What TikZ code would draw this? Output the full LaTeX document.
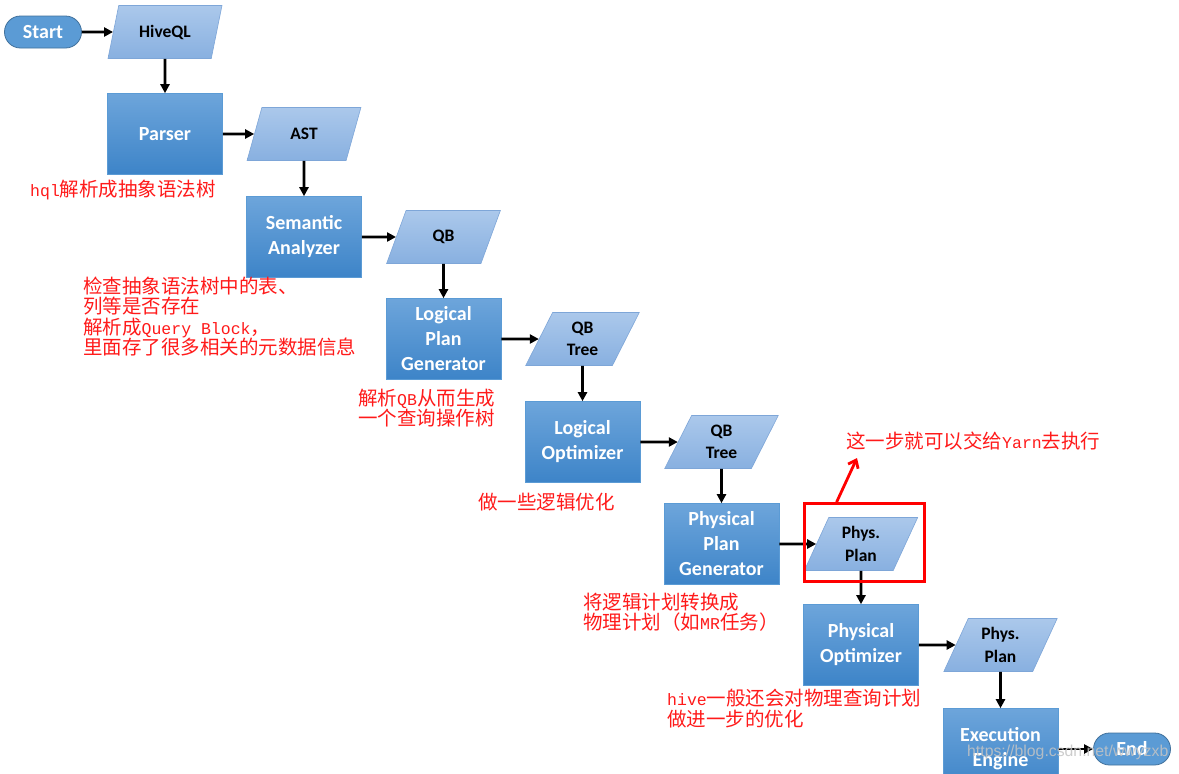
\documentclass[tikz,border=0pt]{standalone}
\usepackage{fontspec}
\setmainfont{Carlito}
\newfontfamily\cjkfont{Noto Sans CJK SC}
\newfontfamily\monofnt{Liberation Mono}
\newfontfamily\wmfont{Liberation Sans}
\usetikzlibrary{shapes.geometric,arrows.meta,calc}
\definecolor{boxtop}{HTML}{6DA5DB}
\definecolor{boxbot}{HTML}{3D84C8}
\definecolor{boxline}{HTML}{5B9BD5}
\definecolor{iotop}{HTML}{ABC8EB}
\definecolor{iobot}{HTML}{88B0E0}
\definecolor{ioline}{HTML}{7EA6D8}
\definecolor{pillfill}{HTML}{5B9BD5}
\definecolor{pillline}{HTML}{41719C}
\definecolor{notecol}{HTML}{FF1A1A}
\definecolor{wmcol}{HTML}{C4C4C4}
\newcommand\lt[1]{{\monofnt\fontsize{16.5}{20.3}\selectfont #1}}
\tikzset{
  procbox/.style={rectangle, minimum width=115pt, minimum height=81pt, inner sep=0pt,
    top color=boxtop, bottom color=boxbot, draw=boxline, line width=0.6pt,
    text=white, font=\bfseries\fontsize{20}{25}\selectfont, align=center},
  iobox/.style={trapezium, trapezium left angle=67.5, trapezium right angle=112.5,
    trapezium stretches=true, minimum width=114pt, minimum height=53pt, inner sep=0pt,
    top color=iotop, bottom color=iobot, draw=ioline, line width=0.6pt,
    font=\bfseries\fontsize{17.5}{22.5}\selectfont, align=center},
  pill/.style={rectangle, rounded corners=16pt, minimum width=77pt, minimum height=32pt,
    inner sep=0pt, fill=pillfill, draw=pillline, line width=0.8pt, text=white,
    font=\bfseries\fontsize{20}{20}\selectfont},
  conn/.style={-{Triangle[length=9pt,width=9pt]}, line width=2.6pt},
  note/.style={text=notecol, inner sep=0pt, anchor=west, align=left,
    font=\cjkfont\fontsize{19.5}{20.3}\selectfont},
}
\begin{document}
\begin{tikzpicture}[x=1pt,y=-1pt]
\useasboundingbox (0,0) rectangle (1179,774);
\clip (0,0) rectangle (1179,774);
\fill[white] (0,0) rectangle (1179,774);

\node[pill] (start) at (43,32) {Start};
\node[iobox] (hiveql) at (165,32) {HiveQL};
\node[procbox] (parser) at (165,134) {Parser};
\node[iobox] (ast) at (304,134) {AST};
\node[procbox] (sem) at (304,237) {Semantic\\Analyzer};
\node[iobox] (qb) at (443.5,237) {QB};
\node[procbox] (lpg) at (443.5,339) {Logical\\Plan\\Generator};
\node[iobox] (qbt1) at (582.5,339) {QB\\Tree};
\node[procbox] (lo) at (582.5,442) {Logical\\Optimizer};
\node[iobox] (qbt2) at (721.5,442) {QB\\Tree};
\node[procbox] (ppg) at (721.5,544) {Physical\\Plan\\Generator};
\node[iobox] (pp1) at (861,544) {Phys.\\Plan};
\node[procbox] (po) at (861,645) {Physical\\Optimizer};
\node[iobox] (pp2) at (1000.5,645) {Phys.\\Plan};
\node[procbox] (ee) at (1000.5,749) {Execution\\Engine};
\node[pill] (end) at (1132,749) {End};

\draw[conn] (start.east) -- (hiveql.west);
\draw[conn] (hiveql.south) -- (parser.north);
\draw[conn] (parser.east) -- (ast.west);
\draw[conn] (ast.south) -- (sem.north);
\draw[conn] (sem.east) -- (qb.west);
\draw[conn] (qb.south) -- (lpg.north);
\draw[conn] (lpg.east) -- (qbt1.west);
\draw[conn] (qbt1.south) -- (lo.north);
\draw[conn] (lo.east) -- (qbt2.west);
\draw[conn] (qbt2.south) -- (ppg.north);
\draw[conn] (ppg.east) -- (pp1.west);
\draw[conn] (pp1.south) -- (po.north);
\draw[conn] (po.east) -- (pp2.west);
\draw[conn] (pp2.south) -- (ee.north);
\draw[conn] (ee.east) -- (end.west);

\node[draw=red, line width=2.8pt, minimum width=120pt, minimum height=78pt, inner sep=0pt] (redbox) at (864.5,542.5) {};
\coordinate (yarnpt) at (857,458);
\draw[red, line width=2.8pt, -{Straight Barb[length=7pt,width=11pt]}] ($(redbox.north west)+(33.5,0)$) -- (yarnpt);

\node[note] (n1) at (30,190) {\lt{hql}解析成抽象语法树};
\node[note] (n2) at (83,316.5) {检查抽象语法树中的表、\\列等是否存在\\解析成\lt{Query Block}，\\里面存了很多相关的元数据信息};
\node[note] (n3) at (358,408) {解析\lt{QB}从而生成\\一个查询操作树};
\node[note] (n4) at (478,502) {做一些逻辑优化};
\node[note] (n5) at (583,612.5) {将逻辑计划转换成\\物理计划（如\lt{MR}任务）};
\node[note] (n6) at (667,708.5) {\lt{hive}一般还会对物理查询计划\\做进一步的优化};
\node[note] (n7) at (846,441) {这一步就可以交给\lt{Yarn}去执行};

\node[font=\wmfont\fontsize{15.8}{16}\selectfont, text=wmcol, text opacity=0.85, anchor=west, inner sep=0pt] (wm) at (967,752) {https://blog.csdn.net/wwyzxb};
\end{tikzpicture}
\end{document}
